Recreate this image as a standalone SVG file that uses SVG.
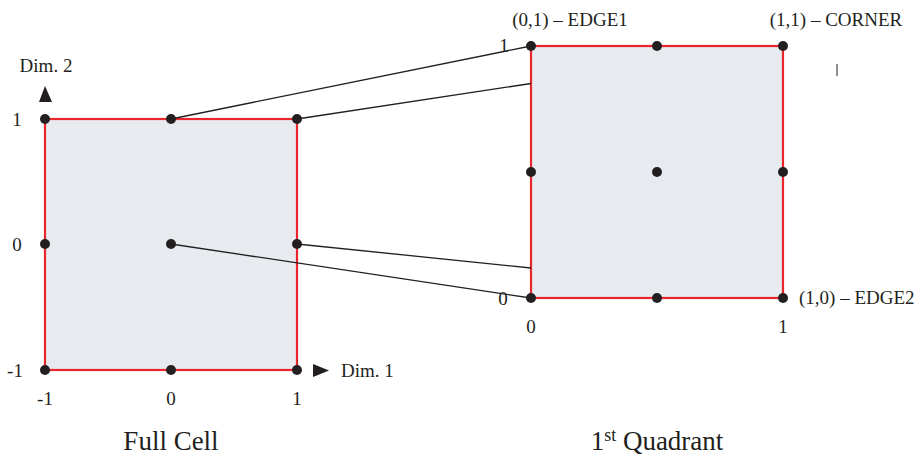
<svg xmlns="http://www.w3.org/2000/svg" width="922" height="461" viewBox="0 0 922 461">
<style>
.cell{fill:#e7ebf0;stroke:#e8262b;stroke-width:2.2}
.dot{fill:#231f20}
.t{font-family:"Liberation Serif","Times New Roman",serif;font-size:19px;fill:#231f20}
.big{font-family:"Liberation Serif","Times New Roman",serif;font-size:27px;fill:#231f20}
.c{stroke:#231f20;stroke-width:1.3;fill:none}
.ar{fill:#231f20}
</style>
<rect width="922" height="461" fill="#fff"/>
<g id="full-cell">
<rect class="cell" x="45" y="119" width="252" height="251"/>
<circle class="dot" cx="45" cy="119" r="5"/><circle class="dot" cx="171" cy="119" r="5"/><circle class="dot" cx="297" cy="119" r="5"/>
<circle class="dot" cx="45" cy="244" r="5"/><circle class="dot" cx="171" cy="244" r="5"/><circle class="dot" cx="297" cy="244" r="5"/>
<circle class="dot" cx="45" cy="370" r="5"/><circle class="dot" cx="171" cy="370" r="5"/><circle class="dot" cx="297" cy="370" r="5"/>
<text class="t" x="46" y="72" text-anchor="middle">Dim. 2</text>
<polygon class="ar" points="45,86 39,102 52,102"/>
<text class="t" x="17" y="126" text-anchor="middle">1</text>
<text class="t" x="17" y="251" text-anchor="middle">0</text>
<text class="t" x="15" y="377" text-anchor="middle">-1</text>
<text class="t" x="45" y="405" text-anchor="middle">-1</text>
<text class="t" x="171" y="405" text-anchor="middle">0</text>
<text class="t" x="297" y="405" text-anchor="middle">1</text>
<polygon class="ar" points="313,364 313,377 329,370.5"/>
<text class="t" x="341" y="377">Dim. 1</text>
<text class="big" x="171" y="450" text-anchor="middle">Full Cell</text>
</g>
<g id="quadrant">
<rect class="cell" x="531" y="46" width="252" height="252"/>
<circle class="dot" cx="531" cy="46" r="5"/><circle class="dot" cx="657" cy="46" r="5"/><circle class="dot" cx="783" cy="46" r="5"/>
<circle class="dot" cx="531" cy="172" r="5"/><circle class="dot" cx="657" cy="172" r="5"/><circle class="dot" cx="783" cy="172" r="5"/>
<circle class="dot" cx="531" cy="298" r="5"/><circle class="dot" cx="657" cy="298" r="5"/><circle class="dot" cx="783" cy="298" r="5"/>
<text class="t" x="570" y="26" text-anchor="middle">(0,1) – EDGE1</text>
<text class="t" x="836" y="26" text-anchor="middle">(1,1) – CORNER</text>
<text class="t" x="504" y="52" text-anchor="middle">1</text>
<line x1="837" y1="64" x2="837" y2="76" stroke="#444" stroke-width="1.2"/>
<text class="t" x="799" y="304">(1,0) – EDGE2</text>
<text class="t" x="503" y="305" text-anchor="middle">0</text>
<text class="t" x="531" y="333" text-anchor="middle">0</text>
<text class="t" x="783" y="333" text-anchor="middle">1</text>
<text class="big" x="657" y="450" text-anchor="middle">1<tspan font-size="18" dy="-9">st</tspan><tspan dy="9"> Quadrant</tspan></text>
</g>
<g id="connectors">
<line class="c" x1="171" y1="119" x2="531" y2="46"/>
<line class="c" x1="297" y1="119" x2="531" y2="83.5"/>
<line class="c" x1="297" y1="244" x2="531" y2="268"/>
<line class="c" x1="171" y1="244" x2="531" y2="298"/>
</g>
</svg>
